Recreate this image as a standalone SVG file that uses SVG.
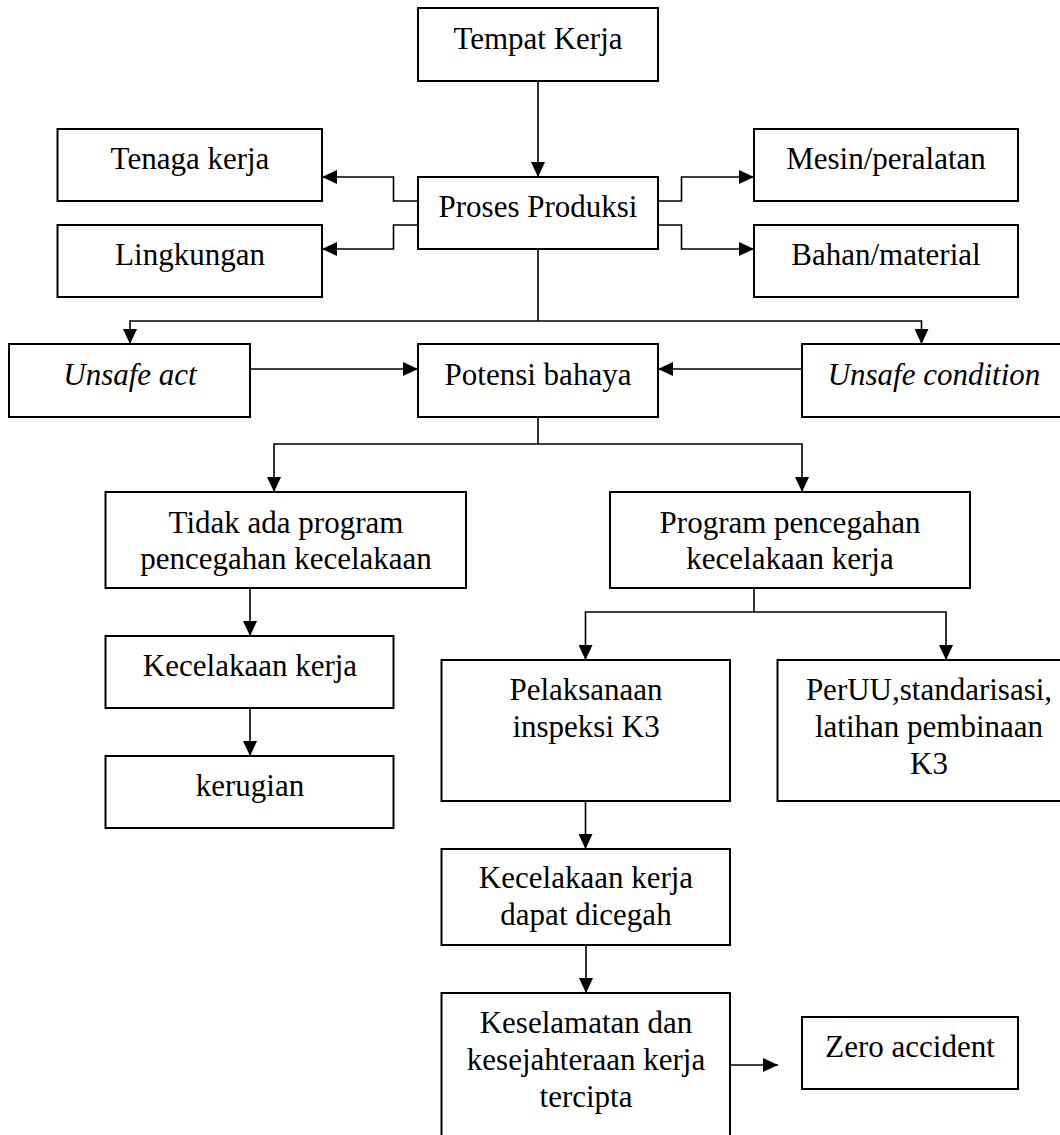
<svg xmlns="http://www.w3.org/2000/svg" width="1060" height="1135" viewBox="0 0 1060 1135">
<defs>
<style>
.box{fill:#fff;stroke:#000;stroke-width:2}
.t{font-family:"Liberation Serif","Times New Roman",serif;font-size:31px;fill:#000;text-anchor:middle}
.i{font-style:italic}
.c{fill:none;stroke:#000;stroke-width:1.6}
</style>
<marker id="ah" markerUnits="userSpaceOnUse" markerWidth="16" markerHeight="14" refX="15" refY="7" orient="auto">
<path d="M0,0 L15,7 L0,14 z" fill="#000"/>
</marker>
</defs>
<rect width="1060" height="1135" fill="#fff"/>
<g id="connectors">
<path class="c" d="M538,81 V177" marker-end="url(#ah)"/>
<path class="c" d="M418,201 H393.5 V177 H322" marker-end="url(#ah)"/>
<path class="c" d="M418,225 H393.5 V249 H322" marker-end="url(#ah)"/>
<path class="c" d="M658,201 H681.5 V177 H754" marker-end="url(#ah)"/>
<path class="c" d="M658,225 H681.5 V249 H754" marker-end="url(#ah)"/>
<path class="c" d="M538,249 V321"/>
<path class="c" d="M538,321 H130 V344" marker-end="url(#ah)"/>
<path class="c" d="M538,321 H921.5 V344" marker-end="url(#ah)"/>
<path class="c" d="M250,369 H418" marker-end="url(#ah)"/>
<path class="c" d="M802,369 H658" marker-end="url(#ah)"/>
<path class="c" d="M538,417 V444"/>
<path class="c" d="M538,444 H274 V492" marker-end="url(#ah)"/>
<path class="c" d="M538,444 H802 V492" marker-end="url(#ah)"/>
<path class="c" d="M250,588 V636" marker-end="url(#ah)"/>
<path class="c" d="M250,708 V756" marker-end="url(#ah)"/>
<path class="c" d="M754,588 V612"/>
<path class="c" d="M754,612 H585.5 V660" marker-end="url(#ah)"/>
<path class="c" d="M754,612 H946 V660" marker-end="url(#ah)"/>
<path class="c" d="M585.5,801 V849" marker-end="url(#ah)"/>
<path class="c" d="M586,945 V993" marker-end="url(#ah)"/>
<path class="c" d="M730,1065 H778" marker-end="url(#ah)"/>
</g>
<g id="tempat-kerja"><rect class="box" x="418" y="8" width="240" height="73"/><text class="t" x="538" y="49">Tempat Kerja</text></g>
<g id="tenaga-kerja"><rect class="box" x="57.5" y="129" width="264.5" height="72"/><text class="t" x="190" y="169">Tenaga kerja</text></g>
<g id="proses-produksi"><rect class="box" x="418" y="177" width="240" height="72"/><text class="t" x="538" y="217">Proses Produksi</text></g>
<g id="mesin"><rect class="box" x="754" y="129" width="264" height="72"/><text class="t" x="886" y="169">Mesin/peralatan</text></g>
<g id="lingkungan"><rect class="box" x="57.5" y="225" width="264.5" height="72"/><text class="t" x="190" y="265">Lingkungan</text></g>
<g id="bahan"><rect class="box" x="754" y="225" width="264" height="72"/><text class="t" x="886" y="265">Bahan/material</text></g>
<g id="unsafe-act"><rect class="box" x="9" y="344" width="241" height="73"/><text class="t i" x="130" y="385">Unsafe act</text></g>
<g id="potensi-bahaya"><rect class="box" x="418" y="344" width="240" height="73"/><text class="t" x="538" y="385">Potensi bahaya</text></g>
<g id="unsafe-condition"><rect class="box" x="802" y="344" width="266" height="73"/><text class="t i" x="934" y="385">Unsafe condition</text></g>
<g id="tidak-ada-program"><rect class="box" x="105.5" y="492" width="360.5" height="96"/><text class="t" x="286" y="533">Tidak ada program</text><text class="t" x="286" y="569">pencegahan kecelakaan</text></g>
<g id="program-pencegahan"><rect class="box" x="610" y="492" width="360" height="96"/><text class="t" x="790" y="533">Program pencegahan</text><text class="t" x="790" y="569">kecelakaan kerja</text></g>
<g id="kecelakaan-kerja"><rect class="box" x="105.5" y="636" width="288" height="72"/><text class="t" x="250" y="676">Kecelakaan kerja</text></g>
<g id="kerugian"><rect class="box" x="105.5" y="756" width="288" height="72"/><text class="t" x="250" y="796">kerugian</text></g>
<g id="pelaksanaan"><rect class="box" x="441.5" y="660" width="288.5" height="141"/><text class="t" x="586" y="700">Pelaksanaan</text><text class="t" x="586" y="737">inspeksi K3</text></g>
<g id="peruu"><rect class="box" x="777.5" y="660" width="304" height="141"/><text class="t" x="929" y="700">PerUU,standarisasi,</text><text class="t" x="929" y="737">latihan pembinaan</text><text class="t" x="929" y="774">K3</text></g>
<g id="dapat-dicegah"><rect class="box" x="441.5" y="849" width="288.5" height="96"/><text class="t" x="586" y="888">Kecelakaan kerja</text><text class="t" x="586" y="925">dapat dicegah</text></g>
<g id="keselamatan"><rect class="box" x="441.5" y="993" width="288.5" height="160"/><text class="t" x="586" y="1033">Keselamatan dan</text><text class="t" x="586" y="1070">kesejahteraan kerja</text><text class="t" x="586" y="1107">tercipta</text></g>
<g id="zero-accident"><rect class="box" x="802" y="1017" width="216" height="72"/><text class="t" x="910" y="1057">Zero accident</text></g>
</svg>
